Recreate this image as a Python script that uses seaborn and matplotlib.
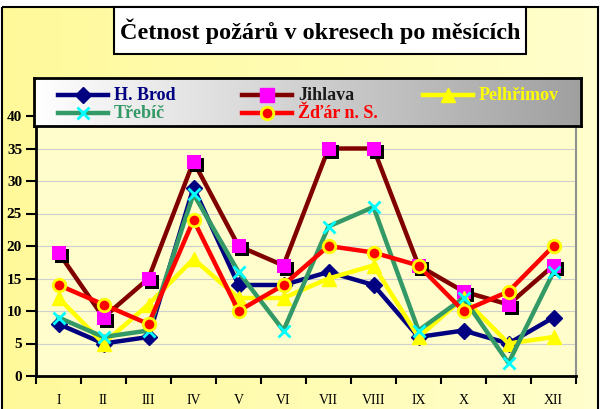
import numpy as np
import pandas as pd
import matplotlib
matplotlib.use("Agg")
import matplotlib.pyplot as plt
import matplotlib.transforms as mtransforms
from matplotlib.patches import Rectangle
from matplotlib.lines import Line2D
import seaborn as sns

# ---------------- data ----------------
months = ["I", "II", "III", "IV", "V", "VI", "VII", "VIII", "IX", "X", "XI", "XII"]
h_brod = [8, 5, 6, 29, 14, 14, 16, 14, 6, 7, 5, 9]
jihlava = [19, 9, 15, 33, 20, 17, 35, 35, 17, 13, 11, 17]
pelhrimov = [12, 5, 11, 18, 12, 12, 15, 17, 6, 12, 5, 6]
trebic = [9, 6, 7, 28, 16, 7, 23, 26, 7, 12, 2, 16]
zdar = [14, 11, 8, 24, 10, 14, 20, 19, 17, 10, 13, 20]
series_names = ["H. Brod", "Jihlava", "Pelhřimov", "Třebíč", "Žďár n. S."]
title = "Četnost požárů v okresech po měsících"
y_ticks = [0, 5, 10, 15, 20, 25, 30, 35, 40]

W, H = 603, 409
plt.rcParams["font.family"] = ["Liberation Serif", "DejaVu Serif"]

fig = plt.figure(figsize=(W / 100, H / 100), dpi=100, facecolor="white")


def fx(x):
    return x / W


def fy(y):
    return (H - y) / H


# ---------- outer background with horizontal gradient ----------
bg = fig.add_axes([0, 0, 1, 1], zorder=0)
bg.set_axis_off()
bg.set_xlim(0, W)
bg.set_ylim(H, 0)
c0 = np.array([255, 249, 154]) / 255
c1 = np.array([255, 255, 205]) / 255
t = np.linspace(0, 1, 256)
grad = (c0[None, :] * (1 - t[:, None]) + c1[None, :] * t[:, None])[None, :, :]
bg.imshow(grad, extent=(2, 598, H + 5, 7), aspect="auto", interpolation="bilinear")
bg.add_patch(Rectangle((2, 7), 596, H + 10, fill=False, ec="black", lw=1.5))

# title box
bg.add_patch(Rectangle((114, 7), 412, 47, fc="white", ec="black", lw=1.5, zorder=3))
bg.text(320, 31, title, ha="center", va="center", fontsize=17.5,
        fontweight="bold", color="black", zorder=4)

# ---------------- main plot ----------------
ax = fig.add_axes([fx(36), fy(376), fx(576) - fx(36), fy(116) - fy(376)], zorder=1)
ax.set_facecolor("#FFFDCB")

x = np.arange(len(months))
df = pd.DataFrame({
    "pos": np.tile(x, 5),
    "val": h_brod + jihlava + pelhrimov + trebic + zdar,
    "okres": np.repeat(series_names, len(months)),
})

lw = 3.2
styles = {
    "H. Brod": dict(color="#000080", marker="D", ms=8, mfc="#000080", mec="#000080", mew=1),
    "Jihlava": dict(color="#800000"),
    "Pelhřimov": dict(color="#FFFF00", marker="^", ms=10, mfc="#FFFF00", mec="#FFFF00", mew=1),
    "Třebíč": dict(color="#339966", marker="x", ms=8, mfc="#00FFFF", mec="#00FFFF", mew=2),
    "Žďár n. S.": dict(color="#FF0000", marker="o", ms=9, mfc="#FF0000", mec="#FFFF00", mew=2),
}

z = 3
for name in series_names:
    sub = df[df["okres"] == name]
    st = styles[name]
    if name == "Jihlava":
        sns.lineplot(data=sub, x="pos", y="val", ax=ax, color=st["color"], lw=lw,
                     zorder=z, legend=False)
        shadow = ax.transData + mtransforms.ScaledTranslation(3 / 100, -3 / 100, fig.dpi_scale_trans)
        sns.scatterplot(data=sub, x="pos", y="val", ax=ax, marker="s", s=95,
                        color="black", linewidth=0, transform=shadow, zorder=z + 0.1, legend=False)
        sns.scatterplot(data=sub, x="pos", y="val", ax=ax, marker="s", s=95,
                        color="#FF00FF", linewidth=0, zorder=z + 0.2, legend=False)
    else:
        sns.lineplot(data=sub, x="pos", y="val", ax=ax, color=st["color"], lw=lw,
                     marker=st["marker"], markersize=st["ms"],
                     markerfacecolor=st["mfc"], markeredgecolor=st["mec"],
                     markeredgewidth=st["mew"], zorder=z, legend=False)
    z += 1

ax.set_xlim(-0.5, len(months) - 0.5)
ax.set_ylim(0, 40)
ax.set_xlabel("")
ax.set_ylabel("")
ax.set_xticks(x)
ax.set_xticklabels(months, fontsize=10)
ax.set_xticks(np.arange(-0.5, len(months), 1), minor=True)
ax.tick_params(axis="x", which="major", length=0, pad=13)
ax.tick_params(axis="x", which="minor", length=6, width=1.5, direction="out")
ax.set_yticks(y_ticks)
ax.set_yticklabels([str(v) for v in y_ticks], fontsize=11, fontweight="bold")
ax.tick_params(axis="y", length=7, width=1.5, direction="out", pad=3)
ax.yaxis.grid(True, color="#CFCFCF", lw=0.8)
ax.xaxis.grid(False)
ax.set_axisbelow(True)
for s in ["left", "bottom"]:
    ax.spines[s].set_color("black")
    ax.spines[s].set_linewidth(2)
ax.spines["right"].set_color("#909090")
ax.spines["right"].set_linewidth(1.5)
ax.spines["top"].set_visible(False)

# ---------------- legend box ----------------
lx0, ly0, lw_, lh_ = 34, 78, 547, 48
lg = fig.add_axes([fx(lx0), fy(ly0 + lh_), lw_ / W, lh_ / H], zorder=5)
lg.set_xlim(0, lw_)
lg.set_ylim(lh_, 0)
g0 = np.array([255, 255, 255]) / 255
g1 = np.array([160, 160, 160]) / 255
lgrad = (g0[None, :] * (1 - t[:, None]) + g1[None, :] * t[:, None])[None, :, :]
lg.imshow(lgrad, extent=(0, lw_, lh_, 0), aspect="auto", interpolation="bilinear")
lg.set_xticks([])
lg.set_yticks([])
for s in lg.spines.values():
    s.set_color("black")
    s.set_linewidth(2)

legend_pos = {
    "H. Brod": (24, 17, "#000080"),
    "Jihlava": (208, 17, "#1A1A1A"),
    "Pelhřimov": (389, 17, "#FFFF00"),
    "Třebíč": (24, 35, "#339966"),
    "Žďár n. S.": (208, 35, "#FF0000"),
}
for name in series_names:
    x0, y0, tc = legend_pos[name]
    st = styles[name]
    lg.add_line(Line2D([x0, x0 + 50], [y0, y0], color=st["color"], lw=lw))
    if name == "Jihlava":
        lg.add_line(Line2D([x0 + 25], [y0], marker="s", ms=9.5, mfc="#FF00FF", mec="#FF00FF", ls=""))
    else:
        lg.add_line(Line2D([x0 + 25], [y0], marker=st["marker"], ms=st["ms"], mfc=st["mfc"],
                           mec=st["mec"], mew=st["mew"], ls=""))
    lg.text(x0 + 56, y0, name, ha="left", va="center", fontsize=13, fontweight="bold", color=tc)

fig.savefig("out.png", dpi=100, facecolor="white")
